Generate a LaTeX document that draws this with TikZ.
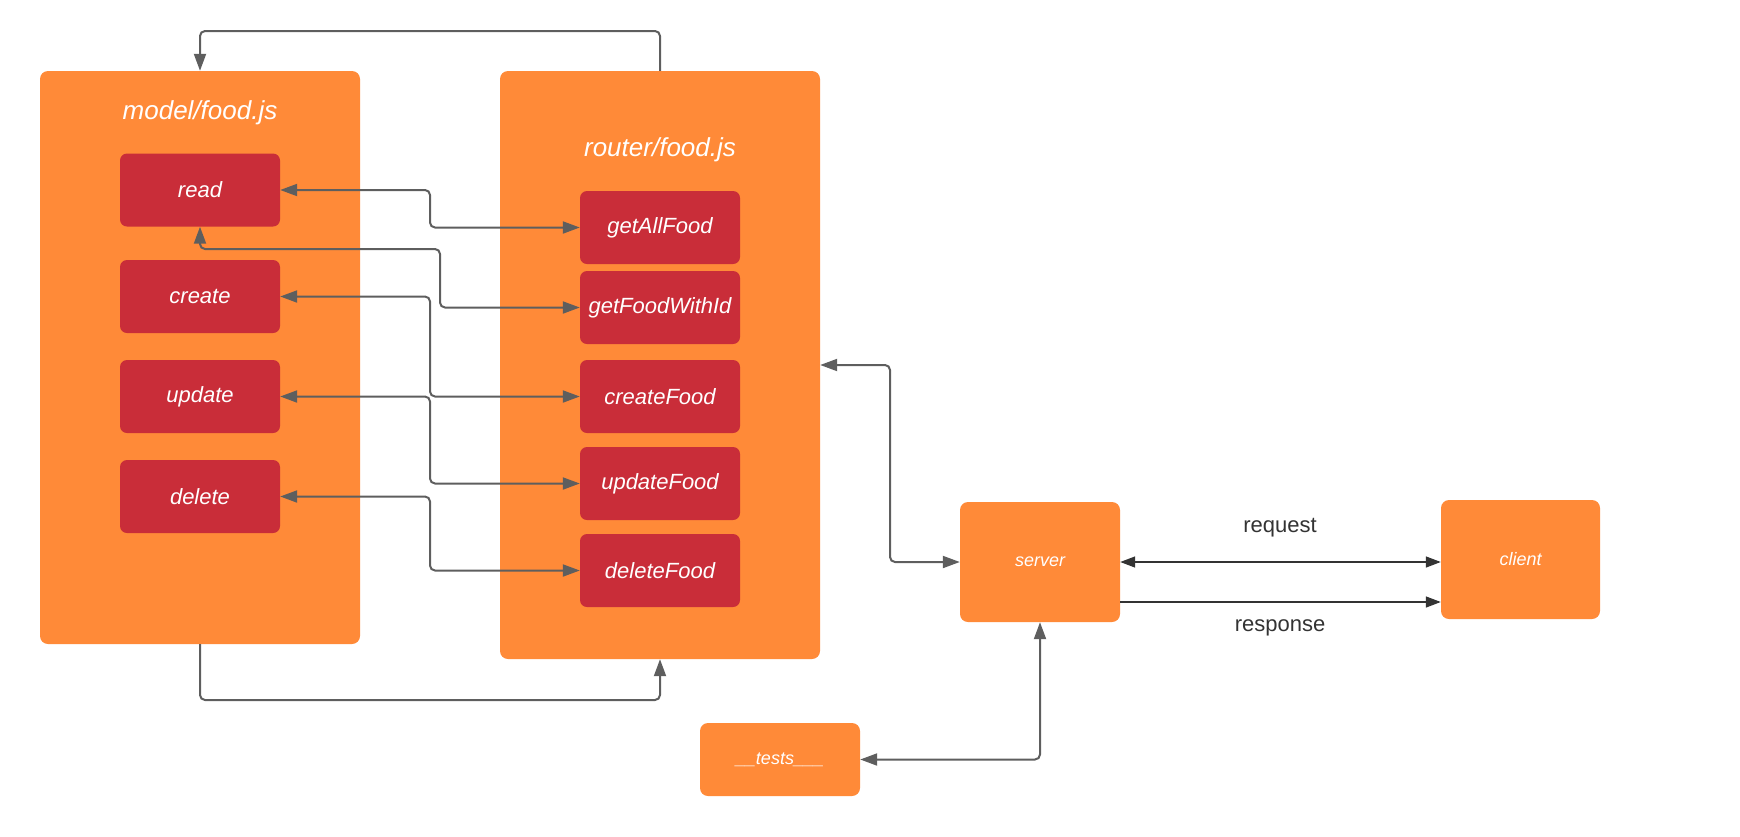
\documentclass[tikz,border=0pt]{standalone}
\usepackage{fontspec}
\setmainfont{Liberation Sans}
\usetikzlibrary{arrows.meta}
\definecolor{orng}{HTML}{FF8A38}
\definecolor{rd}{HTML}{C92D39}
\definecolor{gline}{HTML}{5E5E5E}
\definecolor{dline}{HTML}{333333}
\tikzset{
  outerbox/.style={fill=orng,draw=none,rounded corners=8pt,inner sep=0pt},
  redbox/.style={fill=rd,draw=none,rounded corners=7pt,minimum width=160pt,minimum height=73pt,inner sep=0pt,text=white,font=\fontsize{22}{26}\selectfont\itshape},
  smallbox/.style={fill=orng,draw=none,rounded corners=8pt,inner sep=0pt,text=white,font=\fontsize{18}{22}\selectfont\itshape},
  ttl/.style={text=white,font=\fontsize{26}{30}\selectfont\itshape},
  conn/.style={draw=gline,line width=2pt,rounded corners=5pt,arrows={-},>={Triangle[length=17pt,width=12pt]}},
  dconn/.style={draw=dline,line width=1.4pt,>={Triangle[length=15pt,width=11pt]}},
  lbl/.style={text=dline,font=\fontsize{22}{26}\selectfont},
}
\begin{document}
\begin{tikzpicture}[x=1pt,y=-1pt]
\useasboundingbox (0,0) rectangle (1740,836);
% containers
\node[outerbox,minimum width=320pt,minimum height=573pt] (model) at (200,357.5) {};
\node[outerbox,minimum width=320pt,minimum height=588pt] (router) at (660,365) {};
\node[ttl] (mtitle) at (200,113) {model/food.js};
\node[ttl] (rtitle) at (660,150) {router/food.js};
% model functions
\node[redbox] (read) at (200,190) {read};
\node[redbox] (create) at (200,296.5) {create};
\node[redbox] (update) at (200,396.5) {update};
\node[redbox] (delete) at (200,496.5) {delete};
% router functions
\node[redbox] (getAllFood) at (660,227.5) {getAllFood};
\node[redbox] (getFoodWithId) at (660,307.5) {getFoodWithId};
\node[redbox] (createFood) at (660,396.5) {createFood};
\node[redbox] (updateFood) at (660,483.5) {updateFood};
\node[redbox] (deleteFood) at (660,570.5) {deleteFood};
% other boxes
\node[smallbox,minimum width=160pt,minimum height=120pt] (server) at (1040,562) {server};
\node[smallbox,minimum width=159pt,minimum height=119pt] (client) at (1520.5,559.5) {client};
\node[smallbox,minimum width=160pt,minimum height=73pt] (tests) at (780,759.5) {\_\_tests\_\_\_};
% helper coordinates
\coordinate (busL) at (430,0);
\coordinate (busR) at (440,0);
\coordinate (rowY) at (0,249);
\coordinate (topY) at (0,31);
\coordinate (botY) at (0,700);
\coordinate (busS) at (890,0);
\coordinate (respY) at (0,602);
% model <-> router connectors
\draw[conn,<->] (read.east) -- (read.east -| busL) |- (getAllFood.west);
\draw[conn,<->] (read.south) -- (read.south |- rowY) -- (busR |- rowY) |- (getFoodWithId.west);
\draw[conn,<->] (create.east) -- (create.east -| busL) |- (createFood.west);
\draw[conn,<->] (update.east) -- (update.east -| busL) |- (updateFood.west);
\draw[conn,<->] (delete.east) -- (delete.east -| busL) |- (deleteFood.west);
% loops
\draw[conn,->] (router.north) -- (router.north |- topY) -| (model.north);
\draw[conn,->] (model.south) -- (model.south |- botY) -| (router.south);
% router <-> server
\draw[conn,<->] (router.east) -- (router.east -| busS) |- (server.west);
% tests <-> server
\draw[conn,<->] (tests.east) -| (server.south);
% server <-> client
\draw[dconn,<->] (server.east) -- (server.east -| client.west);
\draw[dconn,->] (server.east |- respY) -- (client.west |- respY);
\node[lbl] (reqlbl) at (1280,528) {request};
\node[lbl] (reslbl) at (1280,628) {response};
\end{tikzpicture}
\end{document}
